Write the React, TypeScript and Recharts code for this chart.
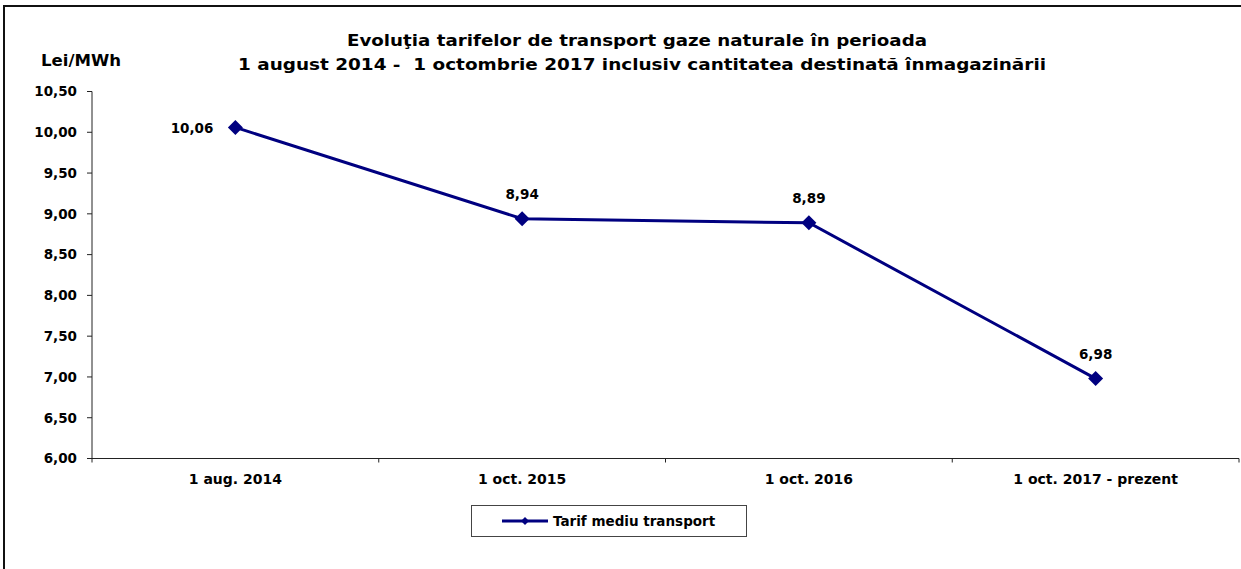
import React from "react"
import {
  LineChart,
  Line,
  XAxis,
  YAxis,
  Legend,
  LabelList,
} from "recharts"

// chart values
const categories = ["1 aug. 2014", "1 oct. 2015", "1 oct. 2016", "1 oct. 2017 - prezent"]
const tarifMediu = [10.06, 8.94, 8.89, 6.98]
const yTicks = [6, 6.5, 7, 7.5, 8, 8.5, 9, 9.5, 10, 10.5]

const titleLine1 = "Evoluţia tarifelor de transport gaze naturale în perioada"
const titleLine2 = "1 august 2014 -  1 octombrie 2017 inclusiv cantitatea destinată înmagazinării"
const unitLabel = "Lei/MWh"
const seriesName = "Tarif mediu transport"

const NAVY = "#000080"
const FONT = "'DejaVu Sans', 'Liberation Sans', Arial, sans-serif"

const fmt = (v: number) => v.toFixed(2).replace(".", ",")

const chartData = categories.map((c, i) => ({ name: c, tarif: tarifMediu[i] }))

const Diamond = (props: any) => {
  const { cx, cy, index } = props
  if (cx == null || cy == null) return <g key={index} />
  const r = 7.5
  return (
    <polygon
      key={index}
      points={`${cx},${cy - r} ${cx + r},${cy} ${cx},${cy + r} ${cx - r},${cy}`}
      fill={NAVY}
    />
  )
}

const XTick = (props: any) => {
  const { x, y, payload, index } = props
  const half = payload?.offset ?? 0
  const last = index === categories.length - 1
  return (
    <g>
      <line x1={x - half} y1={y} x2={x - half} y2={y + 4} stroke="#222" />
      {last && <line x1={x + half} y1={y} x2={x + half} y2={y + 4} stroke="#222" />}
      <text
        x={x}
        y={y + 25}
        textAnchor="middle"
        fill="#000"
        fontSize={14}
        fontWeight="bold"
        fontFamily={FONT}
      >
        {payload.value}
      </text>
    </g>
  )
}

const ValueLabel = (props: any) => {
  const { x, y, value, index } = props
  const first = index === 0
  return (
    <text
      x={first ? x - 22 : x}
      y={first ? y + 6 : y - 20}
      textAnchor={first ? "end" : "middle"}
      fill="#000"
      fontSize={13.5}
      fontWeight="bold"
      fontFamily={FONT}
    >
      {fmt(value)}
    </text>
  )
}

const LegendBox = () => (
  <div
    style={{
      width: 276,
      height: 32,
      boxSizing: "border-box",
      border: "1px solid #444",
      background: "#fff",
      display: "flex",
      alignItems: "center",
      fontFamily: FONT,
      fontWeight: "bold",
      fontSize: 13.5,
      color: "#000",
    }}
  >
    <svg width={46} height={14} style={{ marginLeft: 30, display: "block" }}>
      <line x1={0} y1={7} x2={46} y2={7} stroke={NAVY} strokeWidth={3} />
      <polygon points="23,3 27,7 23,11 19,7" fill={NAVY} />
    </svg>
    <span style={{ marginLeft: 5 }}>{seriesName}</span>
  </div>
)

export default function App() {
  return (
    <div
      style={{
        position: "absolute",
        left: 0,
        top: 0,
        width: 1241,
        height: 569,
        overflow: "hidden",
        background: "#fff",
      }}
    >
      {/* outer frame, only top and left edges fall inside the picture */}
      <div
        style={{
          position: "absolute",
          left: 3,
          top: 5,
          width: 1400,
          height: 700,
          border: "2px solid #111",
        }}
      />

      <svg
        width={1241}
        height={90}
        style={{ position: "absolute", left: 0, top: 0 }}
      >
        <text
          x={347}
          y={46}
          fontSize={15}
          fontWeight="bold"
          fontFamily={FONT}
          fill="#000"
          textLength={580}
          lengthAdjust="spacingAndGlyphs"
        >
          {titleLine1}
        </text>
        <text
          x={238}
          y={70}
          fontSize={15}
          fontWeight="bold"
          fontFamily={FONT}
          fill="#000"
          textLength={808}
          lengthAdjust="spacingAndGlyphs"
          style={{ whiteSpace: "pre" }}
        >
          {titleLine2}
        </text>
        <text
          x={41}
          y={66}
          fontSize={16}
          fontWeight="bold"
          fontFamily={FONT}
          fill="#000"
          textLength={80}
          lengthAdjust="spacingAndGlyphs"
        >
          {unitLabel}
        </text>
      </svg>

      <div style={{ position: "absolute", left: 0, top: 0 }}>
        <LineChart
          width={1241}
          height={569}
          data={chartData}
          margin={{ top: 91.5, right: 2, bottom: 80.5, left: 0 }}
        >
          <XAxis
            dataKey="name"
            scale="band"
            stroke="#222"
            axisLine={{ stroke: "#222" }}
            tickLine={false}
            tickSize={0}
            tickMargin={0}
            height={30}
            interval={0}
            tick={<XTick />}
          />
          <YAxis
            domain={[6, 10.5]}
            ticks={yTicks}
            width={92}
            tickSize={5}
            tickMargin={10}
            tickFormatter={fmt}
            axisLine={{ stroke: "#222" }}
            tickLine={{ stroke: "#222" }}
            tick={{ fill: "#000", fontSize: 13.5, fontWeight: "bold", fontFamily: FONT }}
            allowDataOverflow
          />
          <Legend
            layout="vertical"
            verticalAlign="middle"
            align="center"
            wrapperStyle={{ left: 471, top: 505 }}
            content={<LegendBox />}
          />
          <Line
            type="linear"
            dataKey="tarif"
            name={seriesName}
            stroke={NAVY}
            strokeWidth={3}
            dot={<Diamond />}
            activeDot={false}
            isAnimationActive={false}
          >
            <LabelList dataKey="tarif" content={<ValueLabel />} />
          </Line>
        </LineChart>
      </div>
    </div>
  )
}
